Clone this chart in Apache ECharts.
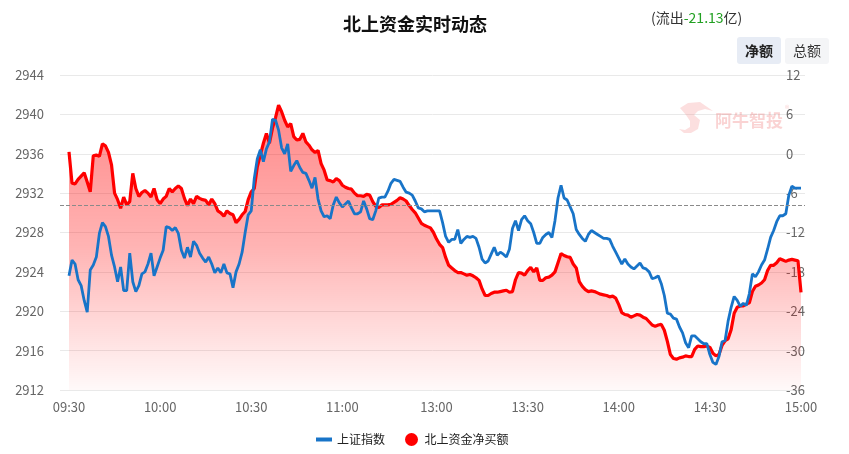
<!DOCTYPE html>
<html>
<head>
<meta charset="utf-8">
<script src="https://cdn.jsdelivr.net/npm/echarts@6/dist/echarts.min.js"></script>
<style>
html,body{margin:0;padding:0;background:#fff;}
#chart{width:849px;height:454px;}
</style>
</head>
<body>
<div id="chart"></div>
<script>
// ---- data ----
const titleText = '北上资金实时动态';
const seriesNames = ['上证指数', '北上资金净买额'];
const tickLabels = ['09:30','10:00','10:30','11:00','13:00','13:30','14:00','14:30','15:00'];
const prevClose = 2930.75;

const indexValues = [
2923.6,2925.2,2924.8,2923.2,2922.6,2921.1,2919.9,2924.2,2924.7,2925.5,
2927.9,2929.0,2928.6,2927.6,2925.7,2924.5,2923.0,2924.5,2922.1,2922.1,
2925.9,2923.0,2922.0,2922.6,2923.8,2924.0,2924.8,2925.9,2923.6,2924.5,
2925.4,2926.2,2928.6,2928.5,2928.2,2928.5,2927.9,2926.2,2925.4,2926.5,
2925.5,2927.1,2926.7,2925.9,2925.4,2925.0,2925.5,2924.8,2923.9,2924.4,
2923.9,2924.8,2923.9,2923.8,2922.4,2924.0,2924.8,2926.0,2928.0,2929.8,
2930.2,2933.5,2935.5,2936.4,2935.2,2936.5,2937.2,2939.5,2939.4,2938.4,
2936.6,2936.0,2937.0,2934.2,2934.8,2935.3,2934.6,2934.1,2934.0,2933.3,
2932.5,2933.6,2931.4,2930.2,2929.6,2929.7,2929.4,2930.8,2931.6,2931.0,
2930.6,2930.9,2931.2,2930.5,2929.9,2929.9,2930.1,2931.2,2930.4,2929.4,
2929.3,2930.2,2931.5,2931.6,2931.6,2932.2,2933.0,2933.4,2933.3,2933.2,
2932.6,2932.1,2932.0,2931.8,2931.2,2930.5,2930.4,2930.1,2930.2,2930.2,
2930.2,2930.2,2930.2,2929.0,2927.6,2927.0,2927.3,2927.3,2928.3,2926.9,
2927.3,2927.6,2927.5,2927.6,2927.4,2926.5,2925.3,2924.9,2925.1,2925.8,
2926.5,2925.7,2926.0,2925.8,2925.5,2926.3,2928.4,2929.2,2928.2,2929.3,
2929.7,2929.2,2928.9,2928.0,2926.9,2926.9,2927.5,2927.8,2928.0,2927.5,
2929.2,2931.5,2932.8,2931.5,2931.3,2930.6,2929.9,2928.3,2927.8,2927.4,
2927.1,2927.8,2928.2,2928.0,2927.8,2927.6,2927.4,2927.4,2927.3,2926.6,
2926.0,2925.4,2924.8,2925.3,2924.8,2924.5,2924.3,2924.6,2924.9,2924.4,
2924.3,2924.0,2923.3,2923.4,2923.6,2922.8,2921.6,2919.8,2919.7,2919.3,
2919.2,2918.4,2917.8,2916.8,2916.3,2917.5,2917.5,2917.2,2916.9,2916.7,
2916.7,2915.6,2914.8,2914.6,2915.4,2916.9,2917.0,2919.0,2920.4,2921.5,
2921.1,2920.5,2920.8,2920.6,2921.8,2923.8,2923.5,2924.0,2924.7,2925.2,
2926.3,2927.5,2928.2,2929.1,2929.7,2929.7,2929.9,2931.8,2932.7,2932.5,
2932.5,2932.5
];

const netBuyValues = [
0.3,-4.5,-4.6,-3.9,-3.4,-2.9,-4.3,-5.8,-0.3,-0.2,
-0.4,1.5,1.2,0.2,-1.7,-6.0,-7.0,-8.3,-6.6,-7.8,
-7.3,-3.0,-5.3,-6.5,-5.9,-5.6,-6.0,-6.6,-5.3,-7.0,
-7.6,-6.9,-6.5,-5.3,-5.8,-5.3,-4.9,-5.3,-6.8,-7.9,
-6.9,-7.6,-6.5,-6.8,-7.0,-7.1,-7.8,-6.9,-7.6,-8.7,
-9.0,-9.5,-8.7,-9.1,-9.3,-10.5,-10.0,-9.3,-8.8,-7.0,
-5.8,-5.3,-2.0,-0.2,1.6,3.1,1.6,3.9,5.5,7.4,
6.4,5.1,4.1,4.6,2.6,2.1,2.2,3.1,1.8,1.3,
0.6,0.2,0.5,-1.5,-2.5,-4.0,-4.1,-4.3,-3.8,-4.1,
-4.8,-5.1,-5.3,-5.4,-6.0,-6.4,-6.4,-6.5,-6.2,-6.3,
-7.3,-8.0,-8.2,-7.8,-7.8,-7.8,-7.7,-7.4,-7.1,-6.7,
-6.9,-7.2,-7.9,-8.5,-9.0,-9.8,-10.6,-10.9,-11.1,-11.3,
-12.0,-13.0,-13.8,-14.3,-15.8,-17.0,-17.4,-17.8,-18.1,-18.1,
-18.3,-18.5,-18.4,-18.6,-18.9,-19.3,-20.6,-21.6,-21.6,-21.3,
-21.1,-21.1,-21.0,-20.9,-20.8,-21.1,-21.0,-19.2,-18.1,-18.2,
-18.5,-17.8,-17.3,-18.0,-17.4,-19.3,-19.3,-18.9,-18.8,-18.5,
-18.0,-16.6,-15.2,-15.5,-15.7,-15.8,-16.8,-17.4,-19.5,-20.2,
-20.7,-21.0,-20.9,-21.0,-21.2,-21.4,-21.5,-21.6,-21.8,-21.7,
-22.0,-23.0,-24.2,-24.5,-24.6,-24.9,-24.7,-24.5,-24.6,-24.9,
-25.1,-25.6,-26.1,-26.3,-26.1,-26.0,-26.9,-28.6,-30.6,-31.2,
-31.3,-31.1,-31.0,-30.8,-30.9,-30.9,-29.8,-29.3,-29.4,-29.4,
-29.3,-29.5,-30.4,-30.8,-30.6,-29.2,-28.5,-28.2,-26.8,-24.3,
-23.4,-23.2,-23.2,-22.9,-22.7,-21.0,-20.2,-20.0,-19.7,-19.2,
-17.8,-17.0,-17.0,-16.6,-16.0,-16.2,-16.4,-16.2,-16.1,-16.2,
-16.3,-21.13
];

// trading minutes: 09:30-11:30 and 13:00-15:00
function buildTimes(){
  const out = [];
  const sessions = [[9*60+30, 11*60+30],[13*60, 15*60]];
  sessions.forEach(function(s){
    for (let m = s[0]; m <= s[1]; m++) {
      const h = Math.floor(m/60), mm = m%60;
      out.push((h<10?'0':'')+h+':'+(mm<10?'0':'')+mm);
    }
  });
  return out;
}
const categories = buildTimes();

const FONT = '"Microsoft YaHei","Noto Sans CJK SC",sans-serif';
const lastFlow = netBuyValues[netBuyValues.length-1];

const chart = echarts.init(document.getElementById('chart'), null, {renderer:'canvas'});
const option = {
  animation: false,
  textStyle: {fontFamily: FONT},
  title: {
    text: titleText, left: 343, top: 15, padding: 0,
    textStyle: {fontSize: 18, fontWeight: 'bold', color: '#111', fontFamily: FONT}
  },
  legend: {
    left: 311, top: 428, itemWidth: 16, itemHeight: 13, itemGap: 20,
    textStyle: {fontSize: 12, color: '#222', fontFamily: FONT},
    data: [
      {name: seriesNames[0], icon: 'path://M0,0 L16,0 L16,4 L0,4 Z'},
      {name: seriesNames[1], icon: 'circle'}
    ]
  },
  grid: [
    {left: 60, right: 44, top: 75, bottom: 64},
    {left: 69, right: 48, top: 75, bottom: 64}
  ],
  xAxis: [
    {gridIndex: 0, type: 'value', min: 0, max: 1, show: false},
    {gridIndex: 1, type: 'category', boundaryGap: false, data: categories,
     axisLine: {show: false}, axisTick: {show: false}, splitLine: {show: false},
     axisLabel: {
       color: '#666', fontSize: 13, margin: 11, fontFamily: FONT,
       interval: function(idx, val){ return tickLabels.indexOf(val) >= 0; }
     }}
  ],
  yAxis: [
    {gridIndex: 0, type: 'value', position: 'left', min: 2912, max: 2944, interval: 4,
     axisLine: {show: false}, axisTick: {show: false},
     splitLine: {show: true, lineStyle: {color: '#e9e9e9', width: 1}},
     axisLabel: {color: '#666', fontSize: 13, margin: 16, fontFamily: FONT,
                 formatter: function(v){ return String(v); }}},
    {gridIndex: 0, type: 'value', position: 'right', min: -36, max: 12, interval: 6,
     axisLine: {show: false}, axisTick: {show: false}, splitLine: {show: false},
     axisLabel: {color: '#666', fontSize: 13, margin: -19, fontFamily: FONT,
                 formatter: function(v){ return String(v); }}},
    {gridIndex: 1, type: 'value', min: 2912, max: 2944, show: false, splitLine: {show: false}},
    {gridIndex: 1, type: 'value', min: -36, max: 12, show: false, splitLine: {show: false}}
  ],
  series: [
    {
      type: 'line', xAxisIndex: 0, yAxisIndex: 0, data: [], silent: true,
      markLine: {
        silent: true, symbol: 'none', label: {show: false},
        lineStyle: {color: '#8a8a8a', type: 'dashed', width: 1},
        data: [{yAxis: prevClose}]
      }
    },
    {
      name: seriesNames[1], type: 'line', xAxisIndex: 1, yAxisIndex: 3,
      data: netBuyValues, symbol: 'none', z: 2,
      lineStyle: {color: '#ff0000', width: 3.2},
      itemStyle: {color: '#ff0000'},
      areaStyle: {
        origin: 'start',
        color: new echarts.graphic.LinearGradient(0, 0, 0, 1, [
          {offset: 0, color: 'rgba(255,0,0,0.66)'},
          {offset: 0.5, color: 'rgba(255,0,0,0.42)'},
          {offset: 1, color: 'rgba(255,0,0,0.03)'}
        ])
      }
    },
    {
      name: seriesNames[0], type: 'line', xAxisIndex: 1, yAxisIndex: 2,
      data: indexValues, symbol: 'none', z: 3,
      lineStyle: {color: '#1874c8', width: 2.8},
      itemStyle: {color: '#1874c8'}
    }
  ],
  graphic: [
    {
      type: 'text', x: 651, y: 11, z: 10,
      style: {
        text: '{a|(流出}{b|' + lastFlow.toFixed(2) + '}{a|亿)}',
        rich: {
          a: {fontSize: 14, fill: '#333', fontFamily: FONT},
          b: {fontSize: 14, fill: '#22a022', fontFamily: FONT}
        }
      }
    },
    {type: 'rect', shape: {x: 737, y: 37, width: 44, height: 27, r: 3}, style: {fill: '#e7ecf5'}, z: 5},
    {type: 'text', x: 759, y: 50.5, z: 6, style: {text: '净额', fontSize: 14, fontWeight: 'bold', fill: '#222', align: 'center', verticalAlign: 'middle', fontFamily: FONT}},
    {type: 'rect', shape: {x: 785, y: 38, width: 44, height: 26, r: 3}, style: {fill: '#f4f5f7'}, z: 5},
    {type: 'text', x: 807, y: 51, z: 6, style: {text: '总额', fontSize: 14, fill: '#333', align: 'center', verticalAlign: 'middle', fontFamily: FONT}},
    {type: 'polygon', x: 678, y: 102, z: 1, silent: true,
     shape: {points: [[2,6],[10,1],[22,0],[35,9],[27,7],[20,9],[16,13],[22,18],[20,27],[13,31],[6,31],[1,27],[7,28],[12,25],[12,19],[8,13]]},
     style: {fill: 'rgba(240,110,110,0.22)'}},
    {type: 'text', x: 715, y: 112, z: 1, silent: true,
     style: {text: '阿牛智投', fontSize: 17, fontWeight: 'bold', fill: 'rgba(240,110,110,0.3)', fontFamily: FONT}},
    {type: 'text', x: 785, y: 104, z: 1, silent: true,
     style: {text: '®', fontSize: 9, fill: 'rgba(240,110,110,0.3)', fontFamily: FONT}}
  ]
};
chart.setOption(option);
</script>
</body>
</html>
